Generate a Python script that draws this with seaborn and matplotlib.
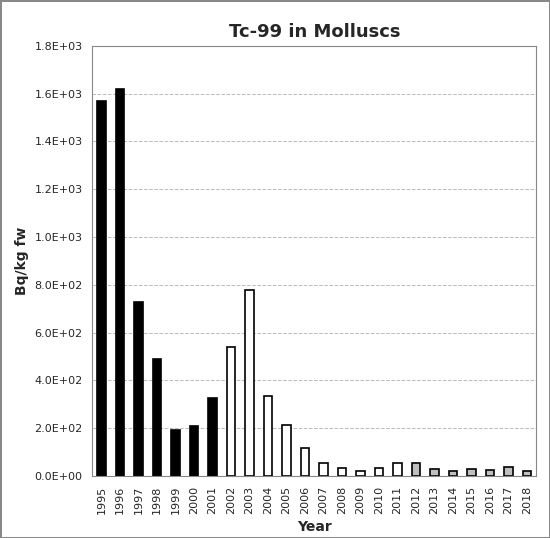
import matplotlib
matplotlib.use("Agg")
import matplotlib.pyplot as plt
import seaborn as sns
import pandas as pd

years = [str(y) for y in range(1995, 2019)]
values = [1570, 1620, 730, 490, 195, 210, 325, 540, 780, 335, 215, 117, 54, 33, 20, 32,
          54, 54, 28, 22, 28, 24, 40, 22]
groups = ["black"] * 7 + ["white"] * 10 + ["grey"] * 7
colors = {"black": "#000000", "white": "#ffffff", "grey": "#bfbfbf"}

sns.set_style("white")
plt.rcParams['font.family'] = ['DejaVu Sans']
df = pd.DataFrame({"Year": years, "Value": values, "g": groups})
fig, ax = plt.subplots(figsize=(5.5, 5.38), dpi=100)
fig.subplots_adjust(left=0.168, right=0.975, top=0.915, bottom=0.115)
ax.yaxis.grid(True, color="#bbbbbb", linestyle="--", linewidth=0.7)
ax.set_axisbelow(True)
sns.barplot(data=df, x="Year", y="Value", hue="g", palette=colors, dodge=False,
            legend=False, width=0.45, edgecolor="black", linewidth=1.2, ax=ax)
ax.set_ylim(0, 1800)
ax.set_yticks(range(0, 1801, 200))
ax.set_yticklabels([f"{v/1000:.1f}E+03" if v >= 1000 else (f"{v/100:.1f}E+02" if v > 0 else "0.0E+00") for v in range(0, 1801, 200)], fontsize=8)
ax.tick_params(axis="x", rotation=90, labelsize=8)
ax.set_xlabel("Year", fontsize=10, fontweight="bold")
ax.set_ylabel("Bq/kg fw", fontsize=10, fontweight="bold")
ax.set_title("Tc-99 in Molluscs", fontsize=13, fontweight="bold")
for s in ax.spines.values():
    s.set_color("#888888")
fig.patch.set_edgecolor("#888888")
fig.patch.set_linewidth(1)
fig.savefig("out.png", dpi=100)
